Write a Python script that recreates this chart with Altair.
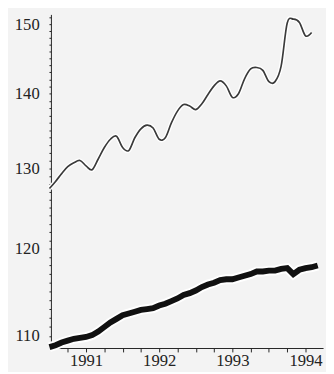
import altair as alt
import pandas as pd

# Monthly observations, July 1990 onward
start_year = 1990
start_month = 7

seasonal = [127.4, 128.3, 129.3, 130.2, 130.7, 131.0, 130.3, 129.8, 131.2, 132.7,
            133.8, 134.2, 132.7, 132.3, 134.0, 135.2, 135.7, 135.3, 133.8, 134.0,
            136.0, 137.6, 138.5, 138.3, 137.8, 138.6, 139.9, 141.1, 141.8, 141.1,
            139.5, 140.0, 142.1, 143.5, 143.7, 143.3, 141.7, 141.7, 143.9, 150.2,
            150.8, 150.3, 148.3, 148.8]

trend = [108.8, 109.0, 109.3, 109.5, 109.7, 109.8, 109.9, 110.1, 110.5, 111.0,
         111.5, 111.9, 112.3, 112.5, 112.7, 112.9, 113.0, 113.1, 113.4, 113.6,
         113.9, 114.2, 114.6, 114.8, 115.1, 115.5, 115.8, 116.0, 116.3, 116.4,
         116.4, 116.6, 116.8, 117.0, 117.3, 117.3, 117.4, 117.4, 117.6, 117.7,
         117.0, 117.5, 117.7, 117.8, 118.0]

x_ticks = [1990.75, 1991.0, 1991.25, 1991.5, 1991.75, 1992.0, 1992.25, 1992.5,
           1992.75, 1993.0, 1993.25, 1993.5, 1993.75, 1994.0]
y_ticks = list(range(109, 152))


def month_pos(i):
    m = start_month - 1 + i
    return start_year + (m // 12) + (m % 12) / 12.0


rows = []
for i, v in enumerate(seasonal):
    rows.append({"t": month_pos(i), "v": v, "s": "seasonal"})
for i, v in enumerate(trend):
    rows.append({"t": month_pos(i), "v": v, "s": "trend"})
df = pd.DataFrame(rows)

font = "Liberation Serif"

x_enc = alt.X("t:Q",
              scale=alt.Scale(domain=[1990.52, 1994.24], nice=False, zero=False),
              axis=alt.Axis(values=x_ticks,
                            labelExpr="datum.value % 1 == 0 ? format(datum.value, 'd') : ''",
                            title=None, grid=False, tickSize=4, labelPadding=1,
                            domainColor="#222", tickColor="#222", labelColor="#222",
                            labelFont=font, labelFontSize=17, labelFlush=False,
                            labelOverlap=False))
y_enc = alt.Y("v:Q",
              scale=alt.Scale(type="log", domain=[108.7, 151.5], nice=False, zero=False),
              axis=alt.Axis(values=y_ticks,
                            labelExpr="datum.value % 10 == 0 ? datum.value : ''",
                            title=None, grid=False, tickSize=2, labelPadding=10,
                            domainColor="#222", tickColor="#222", labelColor="#222",
                            labelFont=font, labelFontSize=17, labelOverlap=False))

base = alt.Chart(df)

thin = base.transform_filter(alt.datum.s == "seasonal")
thick = base.transform_filter(alt.datum.s == "trend")

thin_halo = thin.mark_line(color="white", strokeWidth=4.5, interpolate="cardinal").encode(x=x_enc, y=y_enc)
thin_line = thin.mark_line(color="#3a3a3a", strokeWidth=1.7, interpolate="cardinal").encode(x=x_enc, y=y_enc)
thick_halo = thick.mark_line(color="white", strokeWidth=10).encode(x=x_enc, y=y_enc)
thick_line = thick.mark_line(color="#111111", strokeWidth=6).encode(x=x_enc, y=y_enc)

chart = alt.layer(thin_halo, thin_line, thick_halo, thick_line).properties(
    width=279, height=342,
    background="#f3f3f3",
    padding={"left": 44, "top": 2, "right": 3, "bottom": 20},
    autosize=alt.AutoSizeParams(type="none"),
).configure_view(stroke=None)

chart.save("out.html", embed_options={"renderer": "svg", "actions": False})
